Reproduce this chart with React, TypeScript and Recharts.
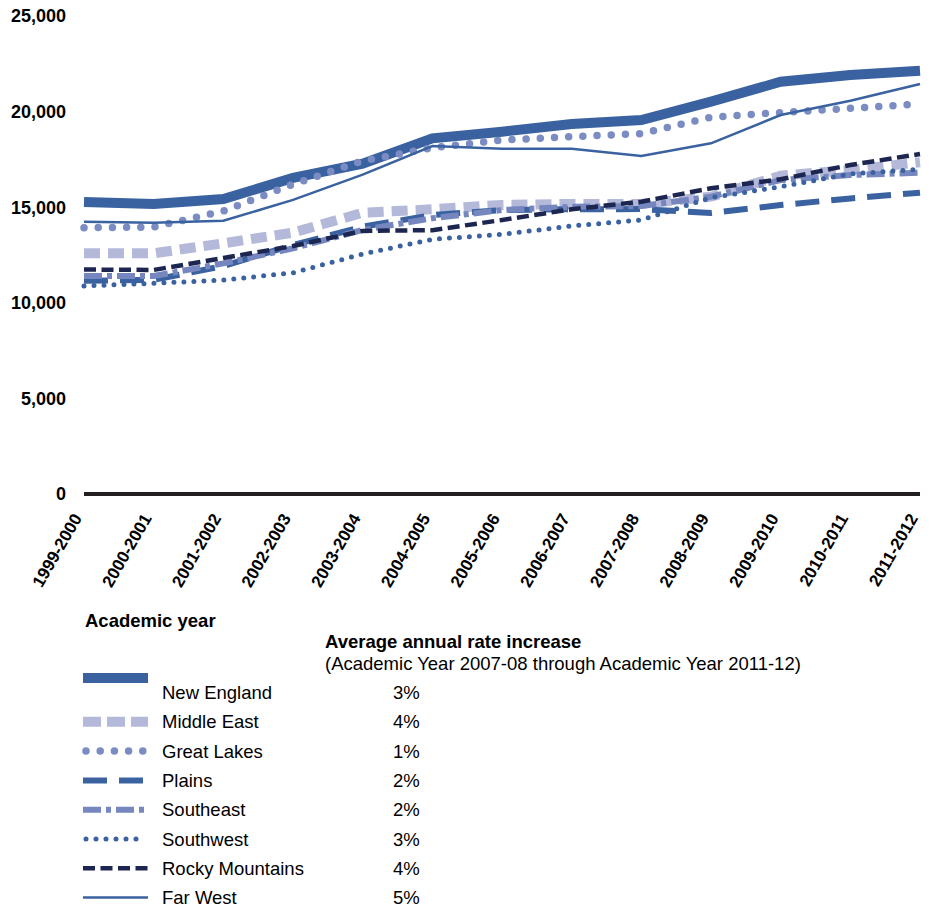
import { LineChart, Line, XAxis, YAxis } from "recharts";

const years = [
  "1999-2000",
  "2000-2001",
  "2001-2002",
  "2002-2003",
  "2003-2004",
  "2004-2005",
  "2005-2006",
  "2006-2007",
  "2007-2008",
  "2008-2009",
  "2009-2010",
  "2010-2011",
  "2011-2012",
];

const newEngland = [15270, 15170, 15430, 16530, 17280, 18600, 18950, 19350, 19560, 20520, 21560, 21910, 22140];
const middleEast = [12590, 12590, 13110, 13670, 14710, 14890, 15120, 15170, 15170, 15550, 16650, 16950, 17350];
const greatLakes = [13930, 13960, 14800, 16200, 17420, 18110, 18510, 18690, 18850, 19700, 19950, 20170, 20400];
const plains = [11150, 11200, 11920, 13020, 13980, 14590, 14850, 14890, 14900, 14700, 15110, 15460, 15760];
const southeast = [11400, 11400, 12060, 12850, 13810, 14420, 14850, 15020, 15060, 15550, 16420, 16680, 16800];
const southwest = [10880, 11020, 11190, 11570, 12550, 13320, 13580, 14020, 14330, 15500, 16070, 16740, 16980];
const rockyMountains = [11740, 11720, 12340, 12970, 13760, 13800, 14330, 14890, 15290, 15990, 16460, 17210, 17780];
const farWest = [14240, 14190, 14290, 15380, 16700, 18200, 18060, 18060, 17680, 18340, 19820, 20570, 21440];

const yTicks = [0, 5000, 10000, 15000, 20000, 25000];

const rateIncrease = ["3%", "4%", "1%", "2%", "2%", "3%", "4%", "5%"];

const FONT = "'Liberation Sans', Arial, Helvetica, sans-serif";
const BLUE = "#3a62a0";

// line styles, legend order = draw order
const series = [
  { key: "newEngland", name: "New England", stroke: BLUE, width: 10, dash: undefined, cap: "butt" },
  { key: "middleEast", name: "Middle East", stroke: "#b4b9da", width: 10, dash: "16 8", cap: "butt" },
  { key: "greatLakes", name: "Great Lakes", stroke: "#7b8cc3", width: 7.5, dash: "0 14.2", cap: "round" },
  { key: "plains", name: "Plains", stroke: BLUE, width: 6, dash: "24 12", cap: "butt" },
  { key: "southeast", name: "Southeast", stroke: "#7687bf", width: 6, dash: "18 5 5 5", cap: "butt" },
  { key: "southwest", name: "Southwest", stroke: BLUE, width: 5, dash: "0 10", cap: "round" },
  { key: "rockyMountains", name: "Rocky Mountains", stroke: "#1c2650", width: 4.5, dash: "12 5.5", cap: "butt" },
  { key: "farWest", name: "Far West", stroke: BLUE, width: 2.5, dash: undefined, cap: "butt" },
];

const data = years.map((year, i) => ({
  year,
  newEngland: newEngland[i],
  middleEast: middleEast[i],
  greatLakes: greatLakes[i],
  plains: plains[i],
  southeast: southeast[i],
  southwest: southwest[i],
  rockyMountains: rockyMountains[i],
  farWest: farWest[i],
}));

const YearTick = ({ x, y, payload }: any) => (
  <g transform={`translate(${x - 1.5},${y + 16})`}>
    <text
      x={0}
      y={0}
      textAnchor="end"
      transform="rotate(-60)"
      fontFamily={FONT}
      fontSize={17}
      fontWeight="bold"
      fill="#000"
    >
      {payload.value}
    </text>
  </g>
);

const Legend = () => {
  const rowY = (i: number) => 692.5 + i * 29.3;
  return (
    <svg
      width={941}
      height={909}
      style={{ position: "absolute", left: 0, top: 0, pointerEvents: "none" }}
      fontFamily={FONT}
      fontSize={18.5}
    >
      <text x={85} y={627} fontWeight="bold">
        Academic year
      </text>
      <text x={325} y={647.5} fontWeight="bold">
        Average annual rate increase
      </text>
      <text x={325} y={669.5}>
        (Academic Year 2007-08 through Academic Year 2011-12)
      </text>
      {series.map((s, i) => {
        const cy = rowY(i);
        const ly = i === 0 ? 678 : cy;
        return (
          <g key={s.key}>
            <line
              x1={s.cap === "round" ? 86 : 83}
              x2={s.cap === "round" ? 146 : 148}
              y1={ly}
              y2={ly}
              stroke={s.stroke}
              strokeWidth={s.width}
              strokeDasharray={s.key === "middleEast" ? "18 6" : s.dash}
              strokeLinecap={s.cap as any}
            />
            <text x={162} y={cy + 6.5}>
              {s.name}
            </text>
            <text x={393} y={cy + 6.5}>
              {rateIncrease[i]}
            </text>
          </g>
        );
      })}
    </svg>
  );
};

export default function App() {
  return (
    <div style={{ position: "absolute", left: 0, top: 0, width: 941, height: 909, background: "#fff" }}>
      <LineChart
        width={941}
        height={620}
        data={data}
        margin={{ top: 16, right: 21, bottom: 0, left: 0 }}
      >
        <XAxis
          dataKey="year"
          height={126}
          interval={0}
          tickLine={false}
          axisLine={{ stroke: "#231f20", strokeWidth: 4 }}
          tick={<YearTick />}
        />
        <YAxis
          width={84}
          domain={[0, 25000]}
          ticks={yTicks}
          interval={0}
          axisLine={false}
          tickLine={false}
          tickSize={6}
          tickMargin={12}
          tickFormatter={(v: number) => v.toLocaleString("en-US")}
          tick={{ fontFamily: FONT, fontSize: 18, fontWeight: "bold", fill: "#000" }}
        />
        {series.map((s) => (
          <Line
            key={s.key}
            type="linear"
            dataKey={s.key}
            name={s.name}
            stroke={s.stroke}
            strokeWidth={s.width}
            strokeDasharray={s.dash}
            strokeLinecap={s.cap as any}
            dot={false}
            activeDot={false}
            isAnimationActive={false}
          />
        ))}
      </LineChart>
      <Legend />
    </div>
  );
}
